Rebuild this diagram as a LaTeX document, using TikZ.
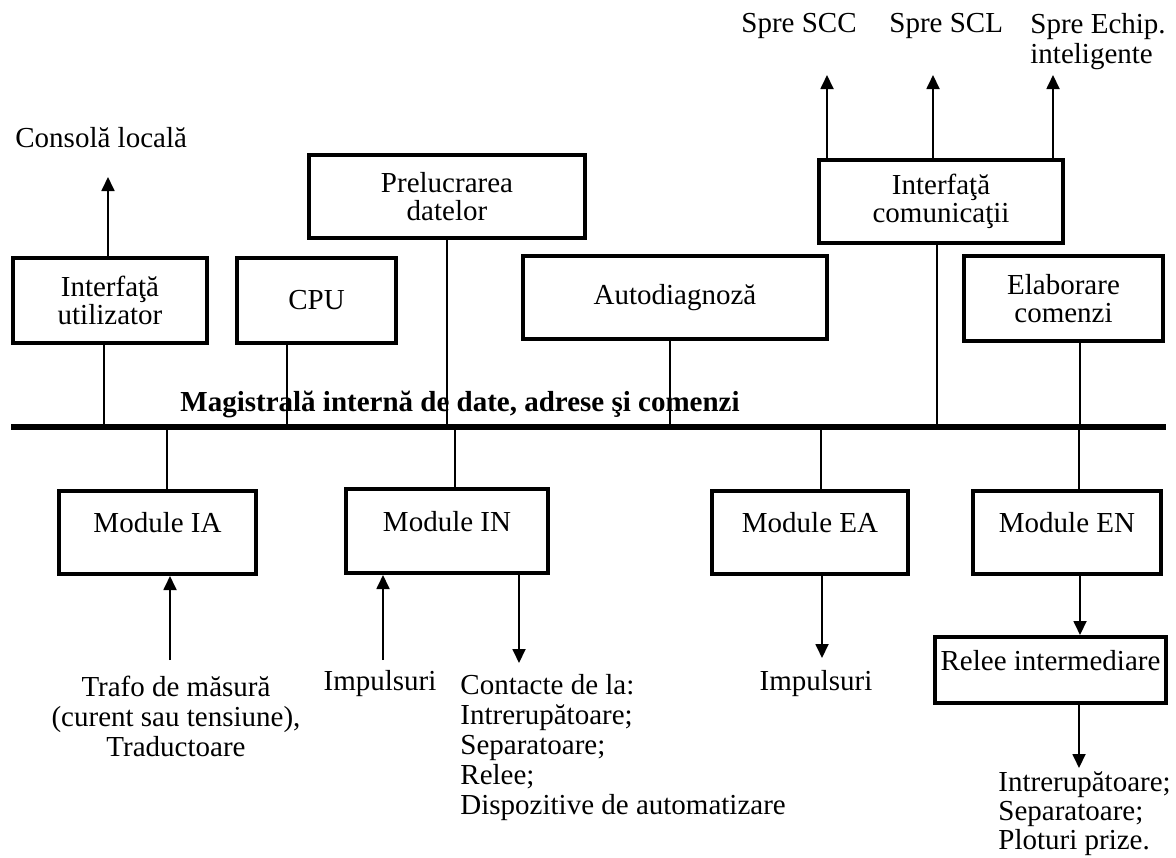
\documentclass[tikz,border=0pt]{standalone}
\usepackage{fontspec}
\setmainfont{Liberation Serif}
\usetikzlibrary{arrows.meta}
\begin{document}
\begin{tikzpicture}[x=0.5pt,y=-0.5pt,
  every node/.style={font=\fontsize{14.5pt}{14.5pt}\selectfont, inner sep=0pt},
  box/.style={draw, line width=2pt, align=center, font=\fontsize{14.5pt}{14pt}\selectfont},
  modbox/.style={box, text height=0pt, text depth=0pt},
  conn/.style={line width=0.9pt},
  arr/.style={line width=0.9pt, -{Triangle[length=7pt,width=6.5pt]}},
  lbl/.style={font=\fontsize{14.5pt}{15pt}\selectfont},
]
\useasboundingbox (0,0) rectangle (1176,857);

% top row boxes
\node[box, minimum width=97pt, minimum height=42.5pt] (iu) at (110,300.5) {Interfaţă\\utilizator};
\node[box, minimum width=79.5pt, minimum height=42.5pt] (cpu) at (316.5,300.5) {CPU};
\node[box, minimum width=138pt, minimum height=41.5pt] (prel) at (447,196.5) {Prelucrarea\\datelor};
\node[box, minimum width=152pt, minimum height=41.5pt] (auto) at (675,297.5) {Autodiagnoză};
\node[box, minimum width=122pt, minimum height=41.5pt] (comm) at (941,201.5) {Interfaţă\\comunicaţii};
\node[box, minimum width=99.5pt, minimum height=42.5pt] (elab) at (1063.5,298.5) {Elaborare\\comenzi};

% bottom row boxes
\node[modbox, minimum width=98.5pt, minimum height=41.5pt] (ia) at (157.5,532.5) {Module IA};
\node[modbox, minimum width=101pt, minimum height=42pt] (in) at (447,531) {Module IN};
\node[modbox, minimum width=98pt, minimum height=41.5pt] (ea) at (810,532.5) {Module EA};
\node[modbox, minimum width=94pt, minimum height=41.5pt] (en) at (1067,532.5) {Module EN};
\node[modbox, minimum width=115.5pt, minimum height=33pt] (rel) at (1050.5,670) {Relee intermediare};

% bus
\coordinate (busL) at (11,427);
\coordinate (busR) at (1166,427);
\node[font=\bfseries\fontsize{14.5pt}{14.5pt}\selectfont, anchor=base] (mag) at (460,411) {Magistrală internă de date, adrese şi comenzi};
\draw[line width=3pt] (busL) -- (busR);

% bus taps
\coordinate (j1) at (104,427);
\coordinate (j2) at (287,427);
\coordinate (j3) at (447,427);
\coordinate (j4) at (670,427);
\coordinate (j5) at (937,427);
\coordinate (j6) at (1080,427);
\coordinate (k1) at (167,427);
\coordinate (k2) at (455,427);
\coordinate (k3) at (821,427);
\coordinate (k4) at (1079,427);
\draw[conn] (j1) -- (j1 |- iu.south);
\draw[conn] (j2) -- (j2 |- cpu.south);
\draw[conn] (j3) -- (j3 |- prel.south);
\draw[conn] (j4) -- (j4 |- auto.south);
\draw[conn] (j5) -- (j5 |- comm.south);
\draw[conn] (j6) -- (j6 |- elab.south);
\draw[conn] (k1) -- (k1 |- ia.north);
\draw[conn] (k2) -- (k2 |- in.north);
\draw[conn] (k3) -- (k3 |- ea.north);
\draw[conn] (k4) -- (k4 |- en.north);

% upward outputs
\node[anchor=base west] (cons) at (15,147) {Consolă locală};
\coordinate (consTip) at (108,177);
\draw[arr] (consTip |- iu.north) -- (consTip);

\node[anchor=base west] (scc) at (741,32) {Spre SCC};
\node[anchor=base west] (scl) at (889,32) {Spre SCL};
\node[lbl, anchor=north west, align=left] (ech) at (1030,13) {Spre Echip.\\inteligente};
\coordinate (t1) at (827,75);
\coordinate (t2) at (933,75);
\coordinate (t3) at (1053,75);
\draw[arr] (t1 |- comm.north) -- (t1);
\draw[arr] (t2 |- comm.north) -- (t2);
\draw[arr] (t3 |- comm.north) -- (t3);

% bottom inputs / outputs
\coordinate (s1) at (170,660);
\coordinate (s2) at (383,660);
\coordinate (s3) at (519,663);
\coordinate (s4) at (822,658);
\coordinate (s5) at (1080,600);
\coordinate (s6) at (1079,768);
\draw[arr] (s1) -- (s1 |- ia.south);
\draw[arr] (s2) -- (s2 |- in.south);
\draw[arr] (s3 |- in.south) -- (s3);
\draw[arr] (s4 |- ea.south) -- (s4);
\draw[arr] (s5 |- en.south) -- (s5 |- rel.north);
\draw[arr] (s6 |- rel.south) -- (s6);

\node[lbl, align=center, anchor=north] (trafo) at (176,676) {Trafo de măsură\\(curent sau tensiune),\\Traductoare};
\node[anchor=base] (imp1) at (380,690) {Impulsuri};
\node[lbl, align=left, anchor=north west] (cont) at (460,674) {Contacte de la:\\Intrerupătoare;\\Separatoare;\\Relee;\\Dispozitive de automatizare};
\node[anchor=base] (imp2) at (816,690) {Impulsuri};
\node[align=left, anchor=north west] (outs) at (998,771) {Intrerupătoare;\\Separatoare;\\Ploturi prize.};
\end{tikzpicture}
\end{document}
